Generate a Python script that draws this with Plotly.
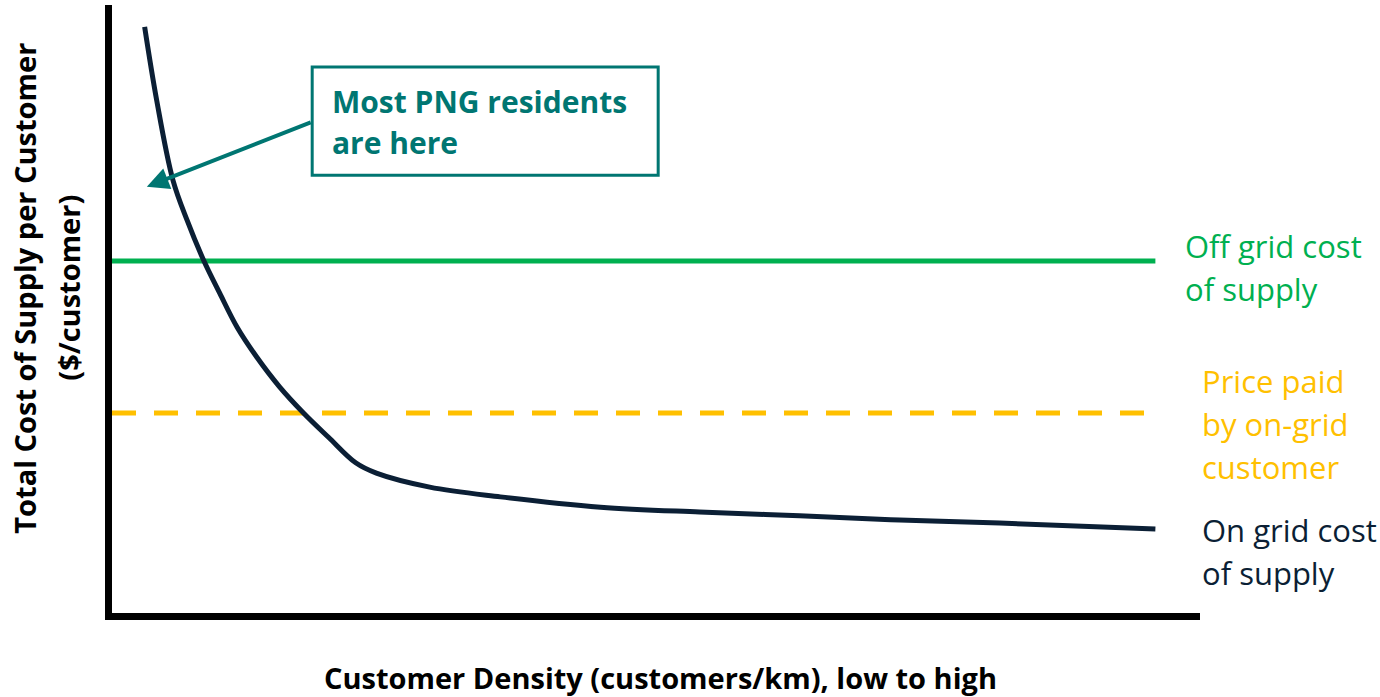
import plotly.graph_objects as go

# Schematic cost curve (arbitrary units 0-100 on both axes)
density = [3.0, 4.1, 5.6, 6.9, 8.4, 9.9, 11.5, 13.3, 15.4, 17.6, 19.9, 22.4,
           24.3, 29.2, 35.7, 44.9, 54.0, 63.2, 72.4, 81.6, 95.9]
on_grid_cost = [96.4, 84.4, 71.2, 64.6, 58.1, 52.6, 47.0, 42.1, 37.2, 32.9, 28.9, 24.7,
                23.0, 20.7, 19.1, 17.4, 16.6, 16.0, 15.3, 14.8, 13.8]
line_x = [0, 95.9]
off_grid_cost = 57.9
on_grid_price = 32.9

NAVY = "#0B1F35"
GREEN = "#00B050"
ORANGE = "#FFC000"
TEAL = "#007672"
FONT = "Open Sans"

fig = go.Figure()

fig.add_trace(go.Scatter(
    x=line_x, y=[off_grid_cost] * 2, mode="lines",
    line=dict(color=GREEN, width=5), hoverinfo="skip",
))
fig.add_trace(go.Scatter(
    x=line_x, y=[on_grid_price] * 2, mode="lines",
    line=dict(color=ORANGE, width=5, dash="24px,18px"), hoverinfo="skip",
))
fig.add_trace(go.Scatter(
    x=density, y=on_grid_cost, mode="lines",
    line=dict(color=NAVY, width=5, shape="spline", smoothing=1.0),
    hoverinfo="skip",
))

# callout box + arrow
fig.add_shape(type="rect", x0=18.4, x1=50.2, y0=72.0, y1=89.8,
              line=dict(color=TEAL, width=3), fillcolor="white")
fig.add_annotation(x=3.2, y=70.1, ax=18.4, ay=80.8, axref="x", ayref="y",
                   text="", showarrow=True, arrowhead=2, arrowsize=1.1,
                   arrowwidth=4, arrowcolor=TEAL)


def label(lines, x, y, color, size, bold=False, step=43, xref="x", yref="y",
          angle=0, xanchor="left"):
    # one annotation per line so the line spacing can be set
    for i, t in enumerate(lines):
        txt = f"<b>{t}</b>" if bold else t
        if angle == 0:
            shift = dict(yshift=-i * step)
        else:
            shift = dict(xshift=i * step)
        fig.add_annotation(
            text=txt, x=x, y=y, xref=xref, yref=yref, showarrow=False, textangle=angle,
            xanchor=xanchor, yanchor="middle",
            font=dict(family=FONT, size=size, color=color), **shift,
        )


label(["Most PNG residents", "are here"], 20.0, 84.2, TEAL, 30, bold=True, step=41)
label(["Off grid cost", "of supply"], 0.984, 60.4, GREEN, 31, xref="paper")
label(["Price paid", "by on-grid", "customer"], 1.0, 38.2, ORANGE, 31, xref="paper")
label(["On grid cost", "of supply"], 1.0, 13.7, NAVY, 31, xref="paper")

# axis titles
label(["Total Cost of Supply per Customer", "($/customer)"], -0.080, 0.535, "black", 29,
      bold=True, step=44, xref="paper", yref="paper", angle=-90, xanchor="center")
label(["Customer Density (customers/km), low to high"], 0.504, -0.106, "black", 29,
      bold=True, xref="paper", yref="paper", xanchor="center")

fig.update_layout(
    width=1380, height=697,
    showlegend=False,
    plot_bgcolor="white",
    paper_bgcolor="white",
    margin=dict(l=112, r=180, t=5, b=84),
    xaxis=dict(range=[0, 100], showgrid=False, zeroline=False, showticklabels=False,
               showline=True, linecolor="black", linewidth=7, fixedrange=True),
    yaxis=dict(range=[0, 100], showgrid=False, zeroline=False, showticklabels=False,
               showline=True, linecolor="black", linewidth=7, fixedrange=True),
)

fig.write_html("out.html", config={"displayModeBar": False},
               post_script="document.body.style.margin='0';")
